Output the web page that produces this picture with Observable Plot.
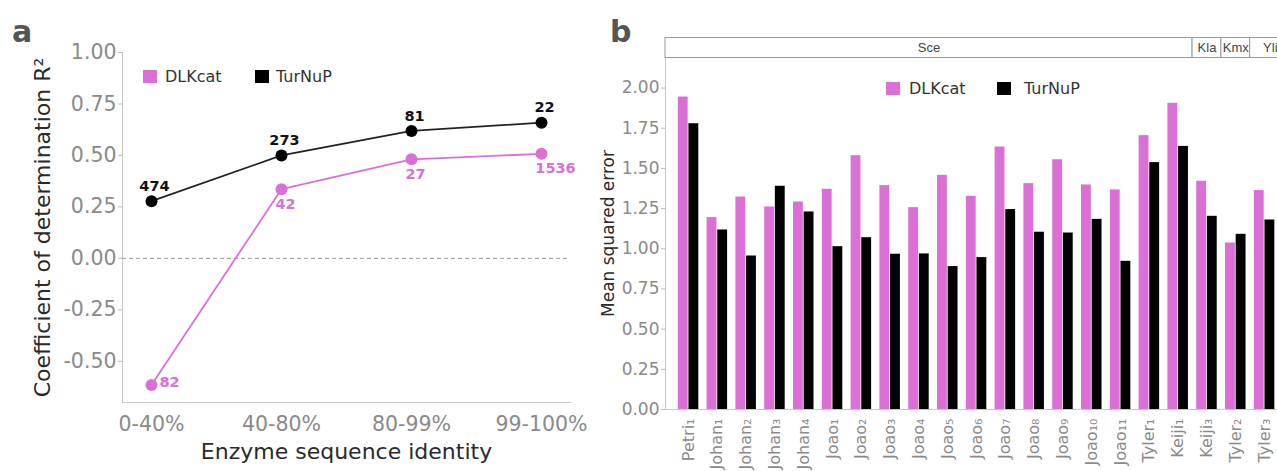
<!DOCTYPE html>
<html><head><meta charset="utf-8">
<script src="https://cdn.jsdelivr.net/npm/d3@7"></script>
<script src="https://cdn.jsdelivr.net/npm/@observablehq/plot@0.6"></script>
<style>
body{margin:0;background:#fff;}
#root{position:relative;width:1277px;height:471px;overflow:hidden;font-family:"DejaVu Sans",sans-serif;background:#fff;}
#root svg{position:absolute;}
</style></head><body><div id="root"></div>
<script>
// ---------- Panel a data ----------
const identityBins = ["0-40%", "40-80%", "80-99%", "99-100%"];
const r2DLKcat = [-0.615, 0.336, 0.481, 0.508];
const r2TurNuP = [0.278, 0.500, 0.619, 0.659];
const nDLKcat = [82, 42, 27, 1536];
const nTurNuP = [474, 273, 81, 22];
const r2Ticks = [-0.5, -0.25, 0, 0.25, 0.5, 0.75, 1.0];

// ---------- Panel b data ----------
const datasets = ["Petri₁","Johan₁","Johan₂","Johan₃","Johan₄","Joao₁","Joao₂","Joao₃","Joao₄","Joao₅","Joao₆","Joao₇","Joao₈","Joao₉","Joao₁₀","Joao₁₁","Tyler₁","Keiji₁","Keiji₃","Tyler₂","Tyler₃"];
const organisms = ["Sce","Sce","Sce","Sce","Sce","Sce","Sce","Sce","Sce","Sce","Sce","Sce","Sce","Sce","Sce","Sce","Sce","Sce","Kla","Kmx","Yli"];
const organismOrder = ["Sce","Kla","Kmx","Yli"];
const mseDLKcat = [1.944,1.194,1.322,1.260,1.291,1.370,1.579,1.393,1.256,1.457,1.326,1.633,1.405,1.554,1.397,1.366,1.704,1.905,1.420,1.036,1.362];
const mseTurNuP = [1.778,1.117,0.955,1.389,1.229,1.013,1.069,0.966,0.968,0.889,0.945,1.244,1.103,1.098,1.183,0.922,1.536,1.637,1.202,1.090,1.179];
const mseTicks = [0, 0.25, 0.5, 0.75, 1.0, 1.25, 1.5, 1.75, 2.0];
const models = ["DLKcat", "TurNuP"];
const modelColors = ["#DA70D6", "#000000"];

const root = document.getElementById("root");
function put(svg, left, top) { svg.style.left = left + "px"; svg.style.top = top + "px"; root.appendChild(svg); }
function htmlText(text, x, baseline, fs, color, weight, family) {
  const d = document.createElement("div");
  d.textContent = text;
  d.style.cssText = `position:absolute;left:${x}px;top:${baseline - 0.846*fs}px;font-size:${fs}px;line-height:1;white-space:nowrap;font-family:${family||"'DejaVu Sans'"};color:${color};font-weight:${weight||"normal"}`;
  root.appendChild(d);
}
function swatch(color, x, y, w, h) {
  const d = document.createElement("div");
  d.style.cssText = `position:absolute;left:${x}px;top:${y}px;width:${w}px;height:${h}px;background:${color}`;
  root.appendChild(d);
}

// ---------- Panel a ----------
const aRows = identityBins.map((bin, i) => ({bin, dl: r2DLKcat[i], tn: r2TurNuP[i], ndl: nDLKcat[i], ntn: nTurNuP[i]}));
const pinkLbl = {x: "bin", y: "dl", text: d => String(d.ndl), fontSize: 14.5, fontWeight: "bold", fill: modelColors[0]};
const plotA = Plot.plot({
  width: 600, height: 471,
  marginLeft: 122, marginRight: 30, marginTop: 52, marginBottom: 69,
  style: {fontFamily: "DejaVu Sans", background: "transparent", overflow: "visible"},
  x: {type: "point", domain: identityBins, padding: 0.21},
  y: {domain: [-0.7, 1.0]},
  marks: [
    Plot.frame({anchor: "left", stroke: "#c8c8c8"}),
    Plot.frame({anchor: "bottom", stroke: "#c8c8c8"}),
    Plot.ruleY([0], {stroke: "#9a9a9a", strokeDasharray: "4,3"}),
    Plot.axisY({ticks: r2Ticks, tickFormat: d => d.toFixed(2), fontSize: 20.5, fill: "#8a8a8a", stroke: "#bbb", tickSize: 4, tickPadding: 2, label: null}),
    Plot.axisX({fontSize: 20.5, fill: "#8a8a8a", tickSize: 0, tickPadding: 14, label: null}),
    Plot.line(aRows, {x: "bin", y: "dl", stroke: modelColors[0], strokeWidth: 1.8}),
    Plot.line(aRows, {x: "bin", y: "tn", stroke: "#222", strokeWidth: 1.8}),
    Plot.dot(aRows, {x: "bin", y: "dl", r: 6, fill: modelColors[0]}),
    Plot.dot(aRows, {x: "bin", y: "tn", r: 6, fill: modelColors[1]}),
    Plot.text(aRows, {x: "bin", y: "tn", text: d => String(d.ntn), dx: 3, dy: -15, fontSize: 14.5, fontWeight: "bold", fill: "#111"}),
    Plot.text(aRows.slice(0, 1), {...pinkLbl, dx: 8, dy: -3, textAnchor: "start"}),
    Plot.text(aRows.slice(1, 3), {...pinkLbl, dx: 4, dy: 15}),
    Plot.text(aRows.slice(3), {...pinkLbl, dx: 14, dy: 15}),
    Plot.text(["Coefficient of determination R²"], {text: d => d, frameAnchor: "left", textAnchor: "middle", dx: -80, rotate: -90, fontSize: 22, fill: "#2a2a2a"}),
    Plot.text(["Enzyme sequence identity"], {text: d => d, frameAnchor: "bottom", dy: 56, fontSize: 22, fill: "#2a2a2a"})
  ]
});
put(plotA, 0, 0);
htmlText("a", 12, 42, 30, "#555", "bold");
swatch(modelColors[0], 143, 70, 14, 13);
htmlText(models[0], 165, 83, 16, "#333");
swatch(modelColors[1], 255, 70, 14, 13);
htmlText(models[1], 276, 83, 16, "#333");

// ---------- Panel b ----------
const n = datasets.length;
const xDomain = [-0.8, n - 1 + 0.9];
const bRows = datasets.flatMap((name, i) => [
  {i, model: models[0], v: mseDLKcat[i]},
  {i, model: models[1], v: mseTurNuP[i]}
]);
const plotB = Plot.plot({
  width: 690, height: 471,
  marginLeft: 65, marginRight: 0, marginTop: 57, marginBottom: 62,
  style: {fontFamily: "DejaVu Sans", background: "transparent", overflow: "visible"},
  x: {domain: xDomain},
  y: {domain: [0, 2.19]},
  color: {domain: models, range: modelColors},
  marks: [
    Plot.rect(bRows, {
      x1: d => d.i + (d.model === models[0] ? -0.37 : 0),
      x2: d => d.i + (d.model === models[0] ? 0 : 0.37),
      y1: 0, y2: "v", fill: "model", insetLeft: 0.4, insetRight: 0.4
    }),
    Plot.frame({anchor: "left", stroke: "#c8c8c8"}),
    Plot.frame({anchor: "bottom", stroke: "#c8c8c8"}),
    Plot.axisY({ticks: mseTicks, tickFormat: d => d.toFixed(2), fontSize: 17, fill: "#8a8a8a", stroke: "#bbb", tickSize: 4, tickPadding: 2, label: null}),
    Plot.axisX({ticks: d3.range(n), tickFormat: i => datasets[i], tickRotate: -90, fontSize: 16, fill: "#8a8a8a", tickSize: 0, tickPadding: 9, label: null}),
    Plot.text(["Mean squared error"], {text: d => d, frameAnchor: "left", textAnchor: "middle", dx: -57, rotate: -90, fontSize: 17, fill: "#2a2a2a"})
  ]
});
put(plotB, 600, 0);

// facet strip
const groups = organismOrder.map(org => {
  const idx = d3.range(n).filter(i => organisms[i] === org);
  return {org, a: d3.min(idx), b: d3.max(idx)};
});
const last = groups.length - 1;
const strip = Plot.plot({
  width: 690, height: 21,
  marginLeft: 65, marginRight: 0, marginTop: 0, marginBottom: 0,
  style: {fontFamily: "Liberation Sans", background: "transparent", overflow: "visible"},
  x: {domain: xDomain, axis: null},
  y: {domain: [0, 1], axis: null},
  marks: [
    Plot.rect(groups, {
      x1: (d, k) => k === 0 ? xDomain[0] : d.a - 0.5,
      x2: (d, k) => k === last ? xDomain[1] : d.b + 0.5,
      y1: 0, y2: 1, fill: "white", stroke: "#9a9a9a", strokeWidth: 1, insetTop: 0.5, insetBottom: 0.5
    }),
    Plot.text(groups, {
      x: (d, k) => ((k === 0 ? xDomain[0] : d.a - 0.5) + (k === last ? xDomain[1] : d.b + 0.5)) / 2,
      y: () => 0.5, text: "org", fontSize: 13, fill: "#444"
    })
  ]
});
put(strip, 600, 37);

htmlText("b", 610, 42, 30, "#555", "bold");
swatch(modelColors[0], 886, 82, 14, 13);
htmlText(models[0], 909, 95, 16, "#333");
swatch(modelColors[1], 997, 82, 14, 13);
htmlText(models[1], 1024, 95, 16, "#333");
</script>
</body></html>
